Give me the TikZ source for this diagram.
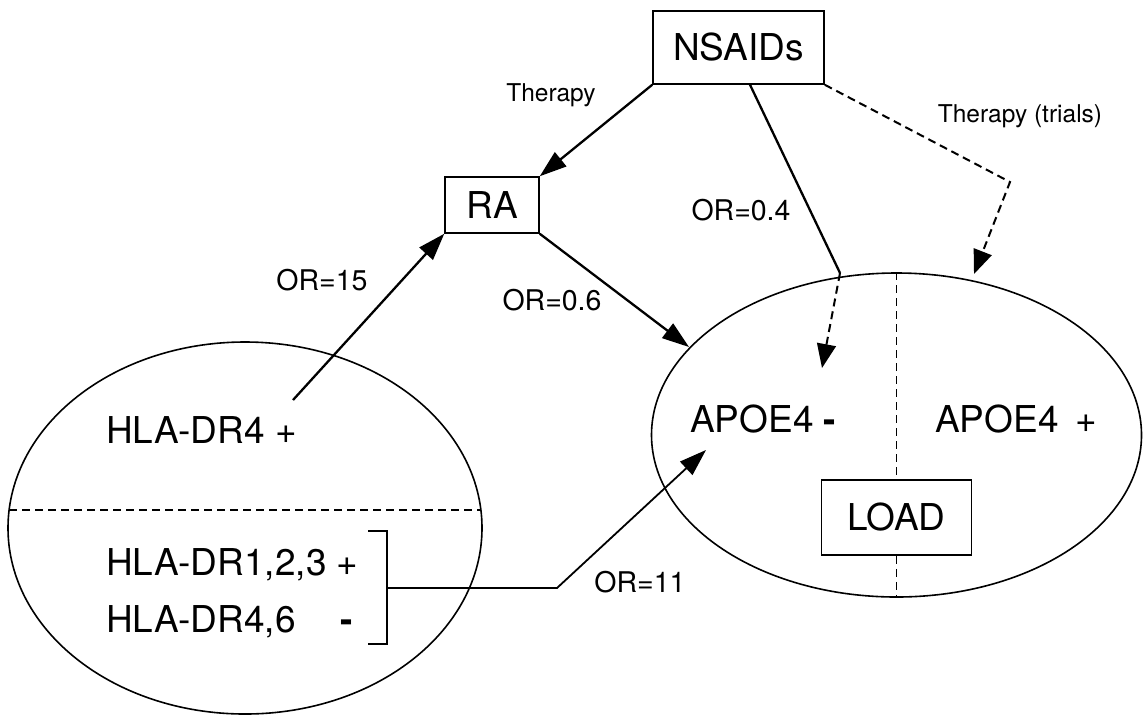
\documentclass[tikz,border=0pt]{standalone}
\usepackage{fontspec}
\setmainfont{TeX Gyre Heros}
\usetikzlibrary{arrows.meta}
\usetikzlibrary{shapes.geometric}

\begin{document}
\begin{tikzpicture}[x=1pt,y=-1pt,
    big/.style={font=\fontsize{37}{40}\selectfont,inner sep=0pt},
    orlab/.style={font=\fontsize{28.5}{30}\selectfont,inner sep=0pt},
    thlab/.style={font=\fontsize{24.5}{26}\selectfont,inner sep=0pt},
    box/.style={draw,line width=1.5pt,inner sep=0pt},
    oval/.style={draw,ellipse,line width=1.6pt,inner sep=0pt},
    link/.style={line width=2.3pt,-{Triangle[length=27pt,width=18pt]}},
    trial/.style={line width=2pt,dash pattern=on 8pt off 5pt,-{Triangle[length=24pt,width=19pt]}},
    split/.style={line width=1.4pt,dash pattern=on 8pt off 5pt}]
  \useasboundingbox (0,0) rectangle (1145,716);

  \node [oval,minimum width=474pt,minimum height=372pt] (hla) at (245,528) {};
  \node [oval,minimum width=490pt,minimum height=324pt] (apoe) at (896.5,435) {};
  \node [box,big,minimum width=171pt,minimum height=73pt] (nsaids) at (738.5,47.5) {NSAIDs};
  \node [box,big,minimum width=94pt,minimum height=56pt] (ra) at (492,205) {RA};
  \node [box,big,fill=white,minimum width=150pt,minimum height=75pt] (load) at (896.5,517.5) {LOAD};

  \node [big,anchor=base west] (dr4) at (106,443) {HLA-DR4 +};
  \node [big,anchor=base west] (dr123) at (106,575) {HLA-DR1,2,3 +};
  \node [big,anchor=base west] (dr46) at (106,632) {HLA-DR4,6\hspace{45pt}\textbf{-}};
  \node [big,anchor=base west] (apoeneg) at (690,432) {APOE4 \textbf{-}};
  \node [big,anchor=base west] (apoepos) at (935,432) {APOE4\hspace{0.45em}+};

  \node [thlab] (ther) at (551,95) {Therapy};
  \node [thlab] (thertr) at (1020,116) {Therapy (trials)};
  \node [orlab] (or04) at (741,210) {OR=0.4};
  \node [orlab] (or15) at (322,280) {OR=15};
  \node [orlab] (or06) at (552,300) {OR=0.6};
  \node [orlab] (or11) at (640,582) {OR=11};

  \coordinate (drout) at (293,400);
  \coordinate (kink) at (840,273);
  \coordinate (negtip) at (822,368);
  \coordinate (bend) at (1010,182);
  \coordinate (postip) at (974,274);
  \coordinate (ratip) at (689,347);
  \coordinate (brtop) at (368,531);
  \coordinate (brbot) at (368,644);
  \coordinate (brmid) at (387,588);
  \coordinate (elbow) at (557,588);
  \coordinate (lowtip) at (706,450);

  \draw [split] (9,510) -- (481,510);
  \draw [split] (apoe.north) -- (load.north);
  \draw [split] (load.south) -- (apoe.south);

  \draw [link] (nsaids.south west) -- (ra.north east);
  \draw [line width=2.3pt] ([xshift=11.5pt]nsaids.south) -- (kink);
  \draw [trial] (kink) -- (negtip);
  \draw [trial] (nsaids.south east) -- (bend) -- (postip);
  \draw [link] (drout) -- (ra.south west);
  \draw [link] (ra.south east) -- (ratip);
  \draw [line width=1.5pt] (brtop) -- (brtop -| brmid) -- (brbot -| brmid) -- (brbot);
  \draw [link,line width=1.8pt] (brmid) -- (elbow) -- (lowtip);
\end{tikzpicture}
\end{document}
